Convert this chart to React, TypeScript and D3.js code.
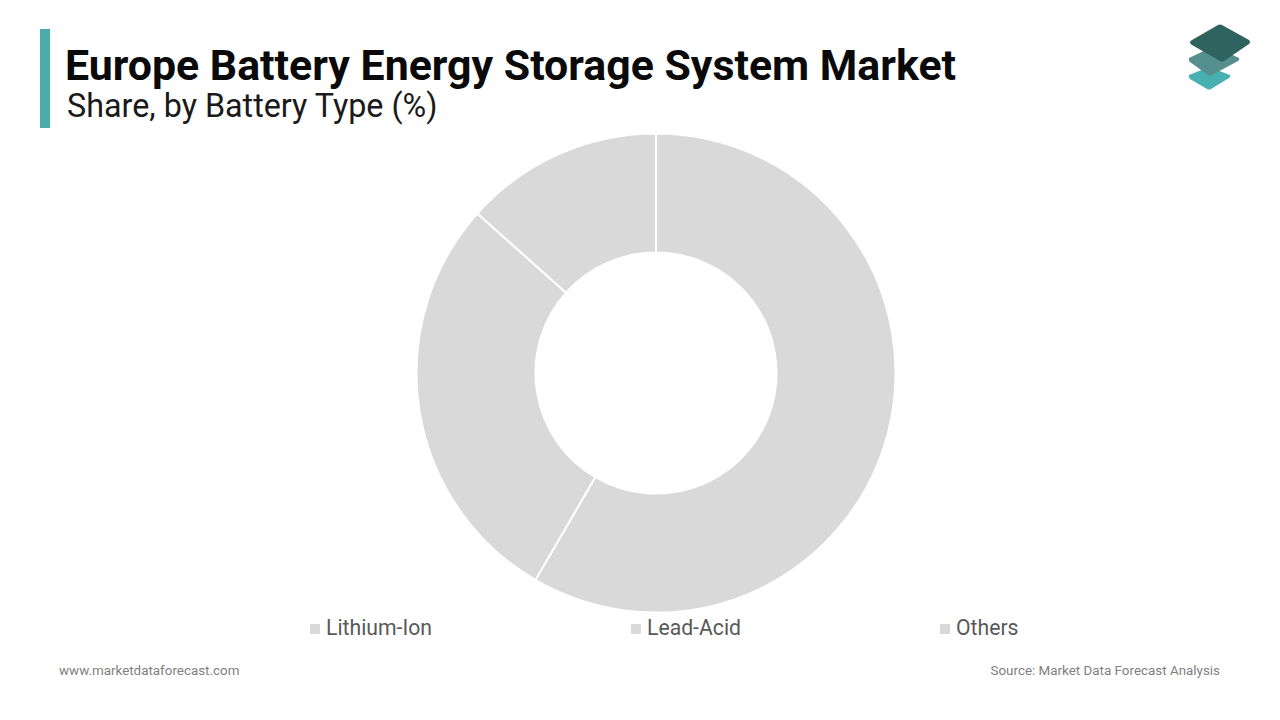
import { arc, pie, scaleOrdinal } from "d3";

const categories = ["Lithium-Ion", "Lead-Acid", "Others"];
const shares = [58.4, 28.2, 13.4];
const sliceColors = ["#d9d9d9", "#d9d9d9", "#d9d9d9"];

const WIDTH = 1280;
const HEIGHT = 720;
const CENTER = { x: 656, y: 373 };
const OUTER_RADIUS = 239.5;
const INNER_RADIUS = 120.5;
const FONT = "Roboto, sans-serif";

// legend swatch left edges
const legendX = [310, 631, 940];

const colorScale = scaleOrdinal<string, string>().domain(categories).range(sliceColors);

const App = () => {
  const slices = pie<number>().sort(null)(shares);
  const sliceArc = arc<any>().innerRadius(INNER_RADIUS).outerRadius(OUTER_RADIUS);

  return (
    <svg
      width={WIDTH}
      height={HEIGHT}
      viewBox={`0 0 ${WIDTH} ${HEIGHT}`}
      style={{ position: "absolute", left: 0, top: 0, background: "#ffffff" }}
    >
      {/* header */}
      <rect x={40} y={29} width={10} height={99} fill="#4aabab" />
      <text x={65} y={79.5} fontFamily={FONT} fontSize={42.85} fontWeight={700} fill="#0a0a0a">
        Europe Battery Energy Storage System Market
      </text>
      <text x={67} y={117} fontFamily={FONT} fontSize={32.3} fontWeight={400} fill="#1a1a1a">
        Share, by Battery Type (%)
      </text>

      {/* logo */}
      <path d="M1189 75 L1209 67 L1230 75 Q1231 77 1229 78 L1211 89 Q1209 90 1207 89 L1190 79 Q1188 77 1189 75 Z" fill="#48b0b0" />
      <path d="M1189 58 L1214 46 L1239 58 Q1240 60 1238 61 L1212 75 Q1210 76 1208 75 L1190 62 Q1188 60 1189 58 Z" fill="#56908e" />
      <path d="M1190 42 Q1190 41 1192 40 L1218 25 Q1220 24 1222 25 L1249 40 Q1251 42 1249 44 L1224 61 Q1222 62 1220 61 L1192 45 Q1190 44 1190 42 Z" fill="#2f6360" />

      {/* donut */}
      <g transform={`translate(${CENTER.x}, ${CENTER.y})`}>
        {slices.map((slice, i) => (
          <path
            key={categories[i]}
            d={sliceArc(slice) ?? ""}
            fill={colorScale(categories[i])}
            stroke="#ffffff"
            strokeWidth={2}
          />
        ))}
      </g>

      {/* legend */}
      {categories.map((name, i) => (
        <g key={name}>
          <rect x={legendX[i]} y={624} width={10} height={10} fill={colorScale(name)} />
          <text x={legendX[i] + 16} y={635} fontFamily={FONT} fontSize={21.2} fill="#595959">
            {name}
          </text>
        </g>
      ))}

      {/* footer */}
      <text x={59} y={675} fontFamily={FONT} fontSize={13.4} fill="#7f7f7f">
        www.marketdataforecast.com
      </text>
      <text x={1220} y={675} textAnchor="end" fontFamily={FONT} fontSize={13.4} fill="#7f7f7f">
        Source: Market Data Forecast Analysis
      </text>
    </svg>
  );
};

export default App;
